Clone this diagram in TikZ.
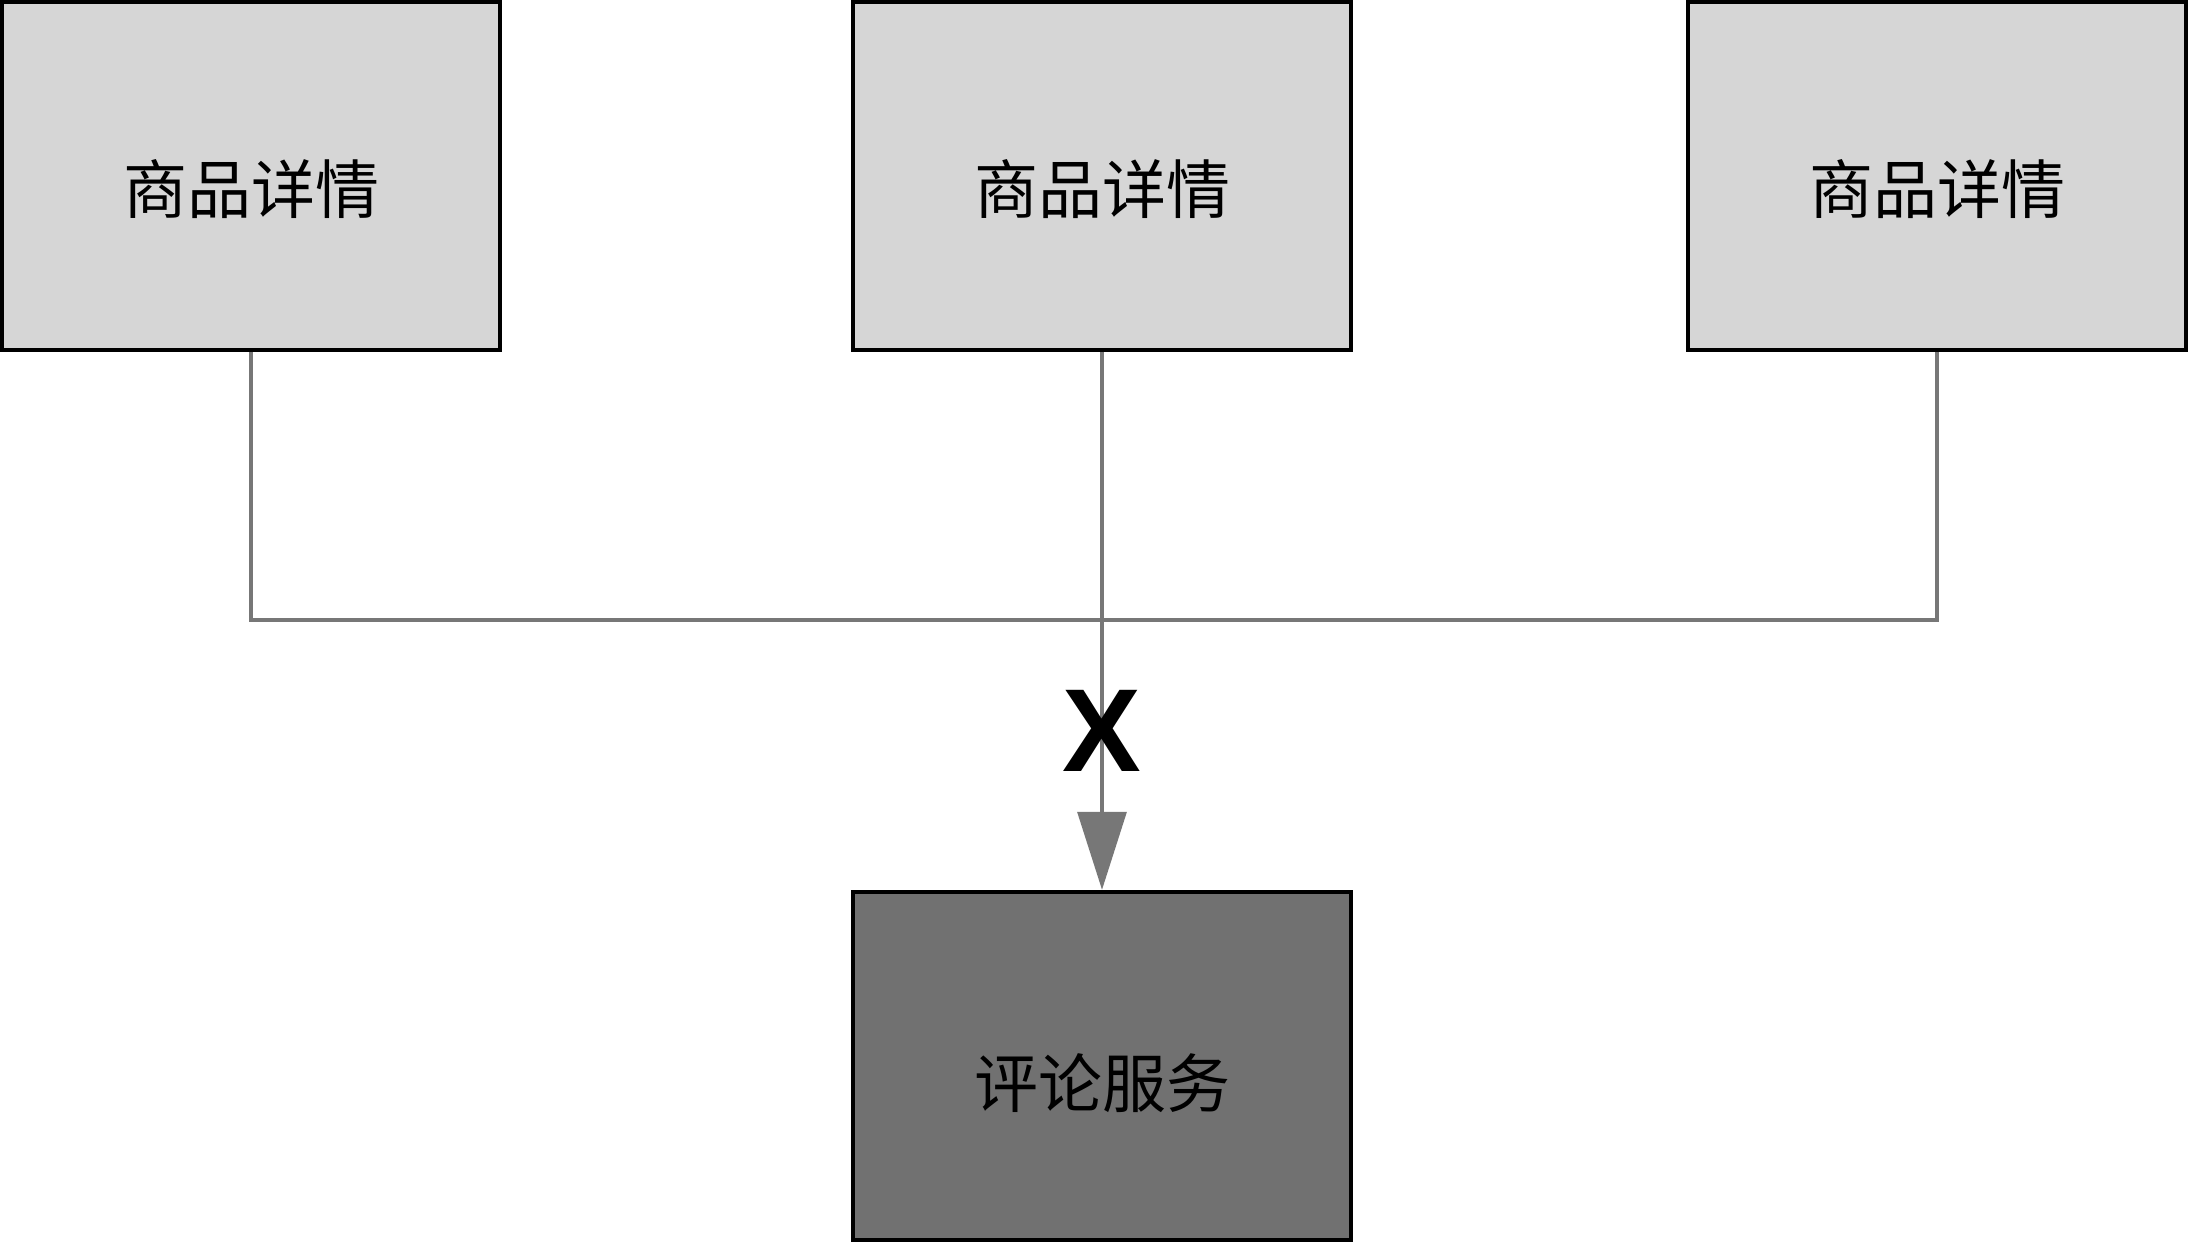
\documentclass[tikz,border=0pt]{standalone}
\usepackage{fontspec}
\newfontfamily\cjk{Noto Sans CJK SC}
\newfontfamily\xfont{Liberation Sans}
\usetikzlibrary{arrows.meta}
\definecolor{lightbox}{HTML}{D6D6D6}
\definecolor{darkbox}{HTML}{717171}
\definecolor{linkgray}{HTML}{777777}
\tikzset{
  svcbox/.style={draw=black, line width=2.2pt, minimum width=249pt, minimum height=174pt, inner sep=0pt},
  lightsvc/.style={svcbox, fill=lightbox},
  darksvc/.style={svcbox, fill=darkbox},
  svctext/.style={font=\cjk\fontsize{32pt}{36pt}\selectfont, inner sep=0pt},
  link/.style={draw=linkgray, line width=1.6pt},
  marklabel/.style={font=\xfont\bfseries\fontsize{59pt}{60pt}\selectfont, inner sep=0pt}
}
\begin{document}
\begin{tikzpicture}[x=0.5pt,y=-0.5pt]
\useasboundingbox (0,0) rectangle (2190,1245);
\node[lightsvc] (b1) at (251,176) {};
\node[lightsvc] (b2) at (1102,176) {};
\node[lightsvc] (b3) at (1937,176) {};
\node[darksvc] (rv) at (1102,1066) {};
\node[svctext] (t1) at (251,189) {商品详情};
\node[svctext] (t2) at (1102,189) {商品详情};
\node[svctext] (t3) at (1937,189) {商品详情};
\node[svctext] (t4) at (1102,1083) {评论服务};
\coordinate (jl) at (251,620);
\coordinate (jr) at (1937,620);
\draw[link] (b1.south) -- (jl) -- (jr) -- (b3.south);
\draw[link, -{Triangle[length=39pt,width=24.5pt]}] (b2.south) -- (rv.north);
\node[marklabel] (xm) at (1102,731) {X};
\end{tikzpicture}
\end{document}
